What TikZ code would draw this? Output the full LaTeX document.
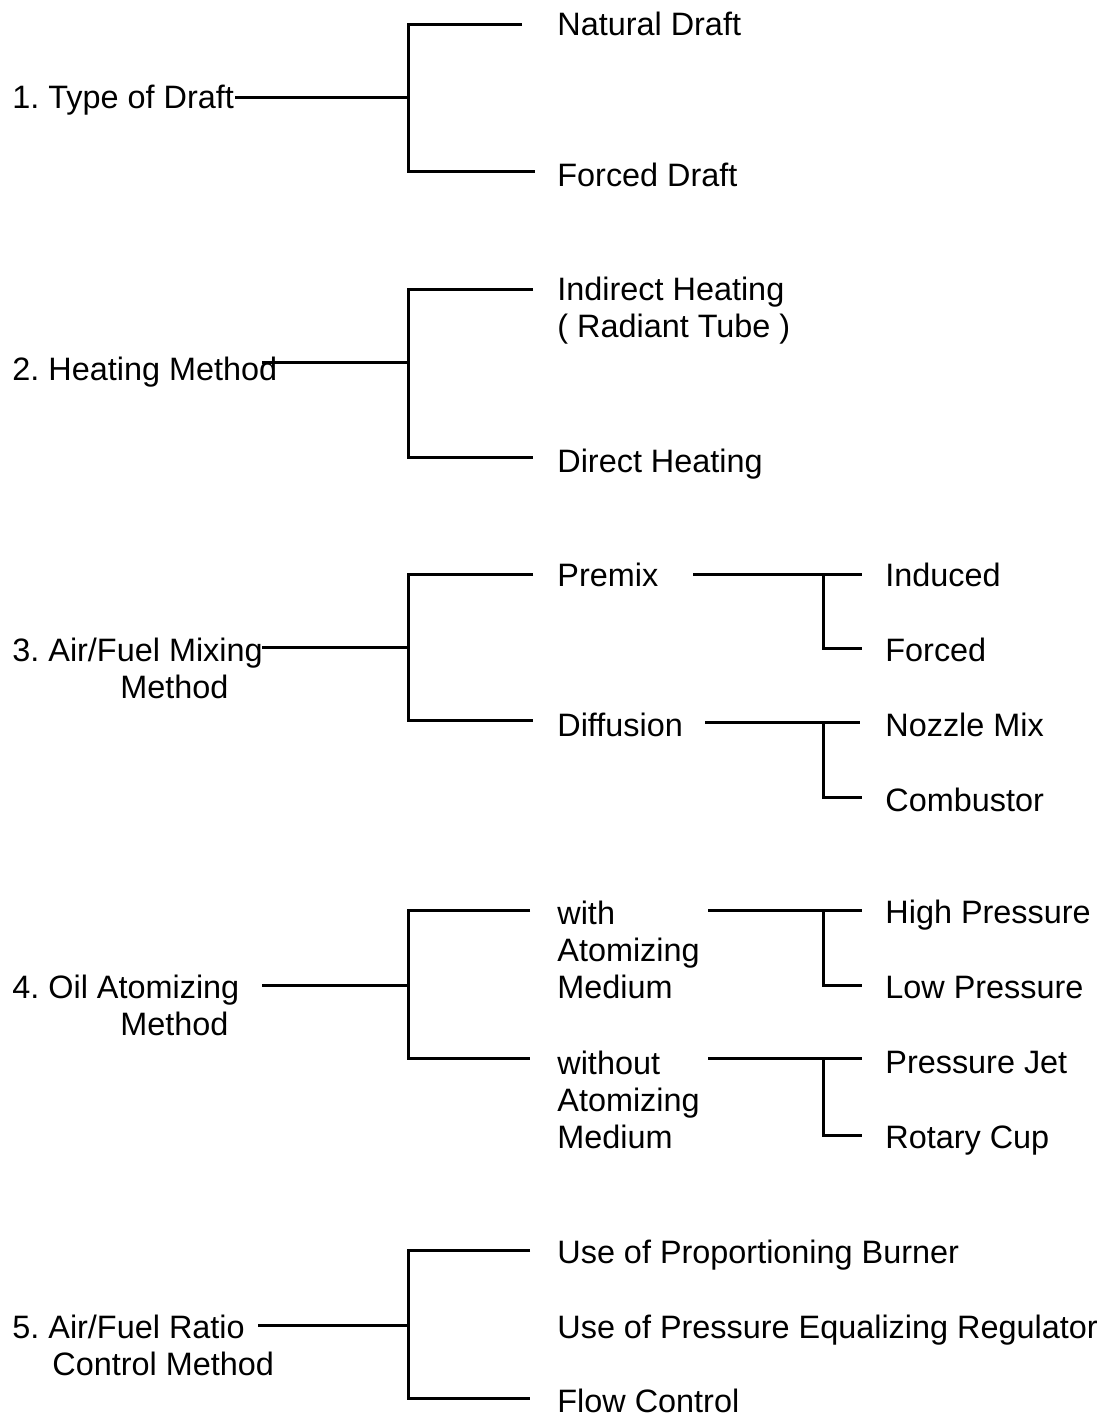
\documentclass[tikz,border=0pt]{standalone}
\usepackage{fontspec}
\setmainfont{Liberation Sans}
\frenchspacing
\newcommand{\mainFork}[4]{%%
  %% The stem from the label to the junction.
  \draw[lineStyle] (#1) -- (#2);
  %% The bar with its upper and lower branch.
  \draw[lineStyle] (#3) -| (#2) |- (#4);
}
\newcommand{\subFork}[4]{%%
  %% The line through the junction, then the lower branch.
  \draw[lineStyle] (#1) -- (#3);
  \draw[lineStyle] (#2) |- (#4);
}

\begin{document}
\begin{tikzpicture}[%%
  x=0.5pt,y=-0.5pt,%%
  lineStyle/.style={-,line width=1.5pt},%%
  textStyle/.style={anchor=base west,inner sep=0pt,align=left,%%
    font=\fontsize{16.2pt}{18.5pt}\selectfont}
]
\useasboundingbox (0,0) rectangle (1104,1416);
%%
%% 1. Type of draft.
\node[textStyle] (draft) at (12,109) {1. Type of Draft};
\node[textStyle] (natural) at (557,36) {Natural Draft};
\node[textStyle] (forcedDraft) at (557,187) {Forced Draft};
\coordinate (s1) at (235,98);
\coordinate (j1) at (408,98);
\coordinate (a1) at (522,25);
\coordinate (b1) at (535,172);
\mainFork{s1}{j1}{a1}{b1}
%%
%% 2. Heating method.
\node[textStyle] (heating) at (12,381) {2. Heating Method};
\node[textStyle] (indirect) at (557,338) {Indirect Heating\\( Radiant Tube )};
\node[textStyle] (direct) at (557,473) {Direct Heating};
\coordinate (s2) at (262,363);
\coordinate (j2) at (408,363);
\coordinate (a2) at (533,290);
\coordinate (b2) at (533,458);
\mainFork{s2}{j2}{a2}{b2}
%%
%% 3. Air/fuel mixing method.
\node[textStyle] (mixing) at (12,698) {3. Air/Fuel Mixing\\\hspace*{54pt}Method};
\node[textStyle] (premix) at (557,586) {Premix};
\node[textStyle] (diffusion) at (557,736) {Diffusion};
\node[textStyle] (induced) at (885,586) {Induced};
\node[textStyle] (forced) at (885,661) {Forced};
\node[textStyle] (nozzle) at (885,736) {Nozzle Mix};
\node[textStyle] (combustor) at (885,811) {Combustor};
\coordinate (s3) at (262,647);
\coordinate (j3) at (408,647);
\coordinate (a3) at (533,574);
\coordinate (b3) at (533,720);
\mainFork{s3}{j3}{a3}{b3}
\coordinate (p1) at (693,574);
\coordinate (q1) at (823,574);
\coordinate (e1) at (862,574);
\coordinate (f1) at (862,648);
\subFork{p1}{q1}{e1}{f1}
\coordinate (p2) at (705,722);
\coordinate (q2) at (823,722);
\coordinate (e2) at (860,722);
\coordinate (f2) at (862,797);
\subFork{p2}{q2}{e2}{f2}
%%
%% 4. Oil atomizing method.
\node[textStyle] (atomizing) at (12,1035) {4. Oil Atomizing\\\hspace*{54pt}Method};
\node[textStyle] (withMedium) at (557,998) {with\\Atomizing\\Medium};
\node[textStyle] (withoutMedium) at (557,1148) {without\\Atomizing\\Medium};
\node[textStyle] (high) at (885,923) {High Pressure};
\node[textStyle] (low) at (885,998) {Low Pressure};
\node[textStyle] (jet) at (885,1073) {Pressure Jet};
\node[textStyle] (cup) at (885,1148) {Rotary Cup};
\coordinate (s4) at (262,985);
\coordinate (j4) at (408,985);
\coordinate (a4) at (530,910);
\coordinate (b4) at (530,1058);
\mainFork{s4}{j4}{a4}{b4}
\coordinate (p3) at (708,910);
\coordinate (q3) at (823,910);
\coordinate (e3) at (862,910);
\coordinate (f3) at (862,985);
\subFork{p3}{q3}{e3}{f3}
\coordinate (p4) at (708,1058);
\coordinate (q4) at (823,1058);
\coordinate (e4) at (862,1058);
\coordinate (f4) at (862,1135);
\subFork{p4}{q4}{e4}{f4}
%%
%% 5. Air/fuel ratio control method.
\node[textStyle] (ratio) at (12,1375) {5. Air/Fuel Ratio\\\hspace*{20pt}Control Method};
\node[textStyle] (proportioning) at (557,1263) {Use of Proportioning Burner};
\node[textStyle] (equalizing) at (557,1338) {Use of Pressure Equalizing Regulator};
\node[textStyle] (flow) at (557,1412) {Flow Control};
\coordinate (s5) at (258,1325);
\coordinate (j5) at (408,1325);
\coordinate (a5) at (530,1250);
\coordinate (b5) at (530,1398);
\mainFork{s5}{j5}{a5}{b5}
\end{tikzpicture}
\end{document}
